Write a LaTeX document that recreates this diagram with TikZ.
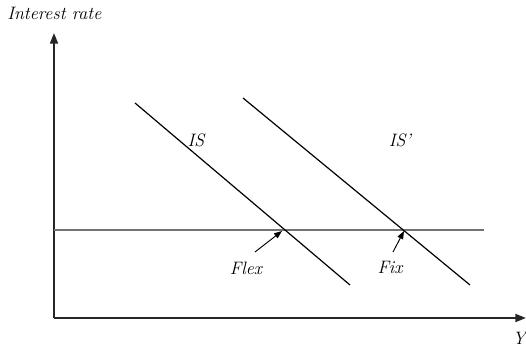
\documentclass[tikz,border=0pt]{standalone}
\usetikzlibrary{arrows.meta}
\begin{document}
\begin{tikzpicture}[x=0.75pt,y=-0.75pt]
	\begin{scope}[>={Triangle[length=8pt,width=6pt]}, line join=round, font=\fontsize{13.5}{13.5}\selectfont\itshape]
	\useasboundingbox (0,0) rectangle (526,348);

	% axes
	\coordinate (O) at (54,318);
	\coordinate (ytop) at (54,33);
	\coordinate (xend) at (526,318);
	\draw [line width=1.4pt,black!85,->] (O) -- (ytop);
	\draw [line width=1.4pt,black!85,->] (O) -- (xend);
	\node [anchor=south west,inner sep=0pt] (ylab) at (7,20) {Interest rate};
	\node [anchor=north east,inner sep=0pt] (xlab) at (526,332) {Y};

	% fixed interest rate
	\coordinate (r1) at (54,230);
	\coordinate (r2) at (484,230);
	\draw [black!55,line width=1.2pt] (r1) -- (r2);

	% IS curves
	\coordinate (is1) at (135,103);
	\coordinate (is2) at (350,285);
	\coordinate (isp1) at (243,98);
	\coordinate (isp2) at (470,285);
	\draw [line width=0.9pt] (is1) -- (is2);
	\draw [line width=0.9pt] (isp1) -- (isp2);
	\node (islab) at (196,140) {IS};
	\node (isplab) at (400,140) {IS'};

	% equilibria
	\coordinate (flexpt) at (282,231);
	\coordinate (fixpt) at (404,231);
	\coordinate (flexst) at (255,252);
	\coordinate (fixst) at (393,252);
	\node (flex) at (246,268) {Flex};
	\node (fix) at (390,267) {Fix};
	\draw [line width=0.7pt,->,>={Triangle[length=6pt,width=4.5pt]}] (flexst) -- (flexpt);
	\draw [line width=0.7pt,->,>={Triangle[length=6pt,width=4.5pt]}] (fixst) -- (fixpt);

	\end{scope}
\end{tikzpicture}
\end{document}
